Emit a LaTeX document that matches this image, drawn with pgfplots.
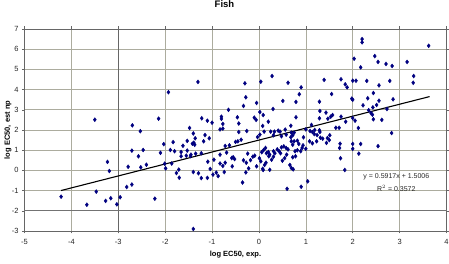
\documentclass[border=0pt]{standalone}
\usepackage{pgfplots}
\pgfplotsset{compat=1.18}
\usepackage{fontspec}
\setmainfont{Liberation Sans}
\definecolor{gridc}{RGB}{172,172,158}
\definecolor{ptc}{RGB}{0,0,128}
\begin{document}
\begin{tikzpicture}
\begin{axis}[
  at={(0pt,0pt)}, anchor=south west,
  scale only axis, width=422pt, height=202pt,
  xmin=-5, xmax=4, ymin=-3, ymax=7,
  xtick={-5,...,4}, ytick={-3,...,7},
  minor ytick={-1}, minor tick length=0pt,
  grid=both,
  major grid style={gridc, line width=0.6pt},
  minor grid style={gray!45, line width=1.5pt},
  axis line style={draw=gray!80!black, line width=0.6pt},
  tick align=outside, major tick length=2.5pt,
  tick style={gray!80!black, line width=0.5pt},
  tick label style={font=\fontsize{7.5}{9}\selectfont, text=black!85},
  xticklabel style={yshift=-2.5pt},
  /pgf/number format/assume math mode=true,
  extra x ticks={-3}, extra x tick labels={},
  extra x tick style={major grid style={black!60, line width=0.7pt}},
  extra y ticks={-2}, extra y tick labels={},
  extra y tick style={major grid style={black!55, line width=0.7pt}},
  xlabel={\bfseries log EC50, exp.},
  ylabel={\bfseries log EC50, est np},
  label style={font=\fontsize{7.5}{9}\selectfont},
  xlabel style={at={(axis description cs:0.5,0)}, anchor=center, yshift=-24pt},
  ylabel style={at={(axis description cs:0,0.5)}, anchor=center, rotate=0, yshift=16.5pt},
  clip=false,
]
\addplot[only marks, mark=diamond*, mark size=2pt, color=ptc, mark options={fill=ptc, draw=ptc}] coordinates {
(-4.22,-1.30) (-3.67,-1.70) (-3.50,2.51) (-3.47,-1.05) (-3.27,-1.51) (-3.23,0.42)
(-3.19,-0.03) (-3.16,-1.38) (-3.03,-1.68) (-2.96,-1.33) (-2.82,-0.82) (-2.79,0.18)
(-2.71,0.98) (-2.71,-0.70) (-2.70,2.23) (-2.57,0.70) (-2.53,1.94) (-2.52,0.15)
(-2.47,1.01) (-2.40,0.28) (-2.22,-1.40) (-2.14,2.56) (-2.10,0.87) (-2.03,1.30)
(-2.01,0.33) (-1.99,0.10) (-1.93,3.87) (-1.89,1.01) (-1.86,0.34) (-1.83,1.40)
(-1.80,0.95) (-1.71,0.04) (-1.76,-0.13) (-1.70,-0.36) (-1.66,0.91) (-1.66,0.70)
(-1.62,1.22) (-1.55,0.73) (-1.53,1.46) (-1.53,0.98) (-1.48,2.10) (-1.46,0.71)
(-1.45,0.78) (-1.42,1.32) (-1.40,1.83) (-1.40,-0.08) (-1.40,-2.90) (-1.39,1.37)
(-1.37,1.27) (-1.36,1.59) (-1.35,0.83) (-1.30,4.38) (-1.29,-0.14) (-1.23,0.85)
(-1.23,-0.38) (-1.22,2.58) (-1.18,1.44) (-1.15,1.75) (-1.10,2.46) (-1.10,-0.37)
(-1.09,0.43) (-1.06,1.59) (-1.04,0.07) (-1.00,2.36) (-0.98,-0.21) (-0.96,0.53)
(-0.91,-0.11) (-0.87,-0.28) (-0.83,2.03) (-0.83,0.78) (-0.83,0.34) (-0.80,2.66)
(-0.80,2.55) (-0.77,2.30) (-0.77,2.07) (-0.77,0.22) (-0.74,-0.08) (-0.72,1.21)
(-0.72,0.38) (-0.69,0.88) (-0.65,3.00) (-0.63,1.24) (-0.58,0.61) (-0.57,0.20)
(-0.55,0.65) (-0.52,0.56) (-0.50,1.41) (-0.46,2.63) (-0.45,1.44) (-0.43,2.32)
(-0.43,1.90) (-0.38,1.52) (-0.35,-0.60) (-0.33,3.19) (-0.33,0.50) (-0.30,4.31)
(-0.28,3.62) (-0.28,-0.10) (-0.27,0.38) (-0.26,1.95) (-0.24,0.83) (-0.22,0.10)
(-0.18,0.51) (-0.13,0.68) (-0.10,2.61) (-0.09,0.73) (-0.06,2.50) (-0.05,3.34)
(-0.05,0.20) (-0.03,1.65) (0.01,0.60) (0.02,1.77) (0.02,2.89) (0.04,4.39)
(0.04,0.45) (0.06,0.90) (0.08,0.08) (0.08,2.20) (0.09,2.74) (0.09,0.02)
(0.10,1.01) (0.11,1.92) (0.12,0.27) (0.14,1.11) (0.15,0.38) (0.16,0.85)
(0.20,2.41) (0.20,0.91) (0.21,0.70) (0.23,0.78) (0.23,0.03) (0.25,1.92)
(0.27,0.53) (0.28,4.67) (0.30,3.04) (0.31,0.68) (0.31,0.95) (0.31,1.74)
(0.33,1.92) (0.34,0.85) (0.39,1.04) (0.41,1.97) (0.43,0.95) (0.45,1.92)
(0.46,0.85) (0.48,1.14) (0.48,1.69) (0.50,0.48) (0.51,3.44) (0.53,1.19)
(0.55,0.61) (0.56,2.02) (0.58,1.11) (0.58,1.77) (0.59,0.78) (0.60,-0.91)
(0.62,4.34) (0.62,1.04) (0.66,0.27) (0.68,2.21) (0.68,1.64) (0.69,0.12)
(0.69,1.44) (0.69,1.87) (0.72,1.74) (0.72,0.65) (0.72,1.27) (0.73,0.05)
(0.75,1.44) (0.75,1.87) (0.77,0.95) (0.78,0.70) (0.79,2.63) (0.79,3.39)
(0.82,1.00) (0.82,1.47) (0.85,1.31) (0.86,3.77) (0.89,0.95) (0.90,4.11)
(0.90,-0.81) (0.92,1.11) (0.94,1.24) (0.95,1.64) (1.00,2.03) (1.00,1.07)
(1.04,-0.54) (1.08,1.44) (1.09,1.95) (1.12,2.25) (1.14,1.34) (1.14,1.90)
(1.18,1.80) (1.19,2.00) (1.23,1.44) (1.24,1.75) (1.29,1.99) (1.29,2.58)
(1.30,2.94) (1.29,3.40) (1.30,1.90) (1.31,1.62) (1.36,1.57) (1.39,4.48)
(1.43,2.86) (1.44,1.36) (1.46,1.60) (1.47,2.56) (1.50,1.50) (1.51,1.74)
(1.53,2.66) (1.55,3.78) (1.57,2.74) (1.64,2.11) (1.71,2.11) (1.72,1.11)
(1.73,1.32) (1.74,0.60) (1.75,4.51) (1.75,2.66) (1.83,0.02) (1.84,4.26)
(1.85,2.41) (1.88,4.11) (1.98,3.55) (2.00,3.50) (2.00,4.44) (2.00,2.59)
(2.00,1.31) (2.00,1.07) (2.03,5.53) (2.05,2.46) (2.07,4.44) (2.12,2.10)
(2.13,0.83) (2.17,1.31) (2.17,5.10) (2.20,6.50) (2.20,6.34) (2.22,3.22)
(2.30,4.43) (2.32,3.57) (2.34,2.98) (2.39,2.84) (2.42,2.76) (2.43,3.12)
(2.44,3.83) (2.44,2.53) (2.47,5.66) (2.51,3.24) (2.54,5.37) (2.54,1.20)
(2.56,4.21) (2.56,3.45) (2.62,2.50) (2.71,5.27) (2.73,3.04) (2.79,4.43)
(2.83,1.85) (2.84,5.17) (2.86,3.52) (3.16,5.37) (3.29,4.34) (3.30,4.67)
(3.62,6.17)
};
\addplot[black, line width=1.1pt, no marks] coordinates {(-4.22,-0.9964) (3.64,3.6544)};
\node[font=\fontsize{7}{8}\selectfont, text=black!85] at (axis cs:2.93,-0.31) {y = 0.5917x + 1.5006};
\node[font=\fontsize{7}{8}\selectfont, text=black!85] at (axis cs:2.93,-0.91) {R$^{2}$ = 0.3572};
\end{axis}
\node[font=\fontsize{9.5}{11}\selectfont\bfseries, inner sep=0pt, anchor=base] at (200pt,223pt) {Fish};
\pgfresetboundingbox
\useasboundingbox (-24.5pt,-33pt) rectangle (424.5pt,231pt);
\end{tikzpicture}
\end{document}
